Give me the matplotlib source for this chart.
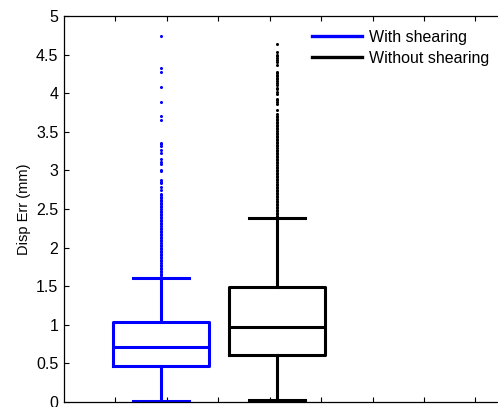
import matplotlib
matplotlib.use("Agg")
import matplotlib.pyplot as plt
from matplotlib.lines import Line2D

plt.rcParams['font.family'] = ['Liberation Sans', 'DejaVu Sans']

# ---- data ----
labels = ["With shearing", "Without shearing"]
colors = ["#0000ff", "#000000"]
medians = [0.71, 0.97]
q1s = [0.46, 0.61]
q3s = [1.03, 1.49]
whis_lo = [0.01, 0.02]
whis_hi = [1.60, 2.38]

fliers_with = [4.74, 4.32, 4.28, 4.08, 3.88, 3.71, 3.65, 3.36, 3.34, 3.32, 3.27,
               3.22, 3.15, 3.11, 3.08, 3.00, 2.99, 2.88, 2.85, 2.84, 2.78, 2.74,
               2.70, 2.68, 2.66, 2.64, 2.62, 2.60, 2.58, 2.56, 2.54, 2.52, 2.50,
               2.48, 2.46, 2.44, 2.42, 2.40, 2.38, 2.36, 2.34, 2.32, 2.30, 2.28,
               2.26, 2.24, 2.22, 2.20, 2.18, 2.16, 2.14, 2.12, 2.10, 2.08, 2.06,
               2.04, 2.02, 2.00, 1.98, 1.96, 1.94, 1.92, 1.90, 1.88, 1.86, 1.84,
               1.82, 1.80, 1.78, 1.76, 1.74, 1.72, 1.70, 1.68, 1.66, 1.64, 1.62]
fliers_without = [4.64, 4.54, 4.50, 4.48, 4.45, 4.43, 4.40, 4.37, 4.28, 4.26,
                  4.24, 4.22, 4.20, 4.18, 4.16, 4.13, 4.11, 4.07, 4.05, 4.02,
                  3.99, 3.93, 3.91, 3.89, 3.86, 3.78, 3.73, 3.71, 3.69, 3.67,
                  3.65, 3.63, 3.61, 3.59, 3.57, 3.55, 3.53, 3.51, 3.49, 3.47,
                  3.45, 3.43, 3.41, 3.39, 3.37, 3.35, 3.33, 3.31, 3.29, 3.27,
                  3.25, 3.23, 3.21, 3.19, 3.17, 3.15, 3.13, 3.11, 3.09, 3.07,
                  3.05, 3.03, 3.01, 2.99, 2.97, 2.95, 2.93, 2.91, 2.89, 2.87,
                  2.85, 2.83, 2.81, 2.79, 2.77, 2.75, 2.73, 2.71, 2.69, 2.67,
                  2.65, 2.63, 2.61, 2.59, 2.57, 2.55, 2.53, 2.51, 2.49, 2.47,
                  2.45, 2.43, 2.41, 2.39]
fliers = [fliers_with, fliers_without]

yticks = [0, 0.5, 1, 1.5, 2, 2.5, 3, 3.5, 4, 4.5, 5]
ytick_labels = ["0", "0.5", "1", "1.5", "2", "2.5", "3", "3.5", "4", "4.5", "5"]
ylabel = "Disp Err (mm)"

# ---- figure ----
W, H = 498, 407
fig = plt.figure(figsize=(W / 100, H / 100), dpi=100)
ax_left, ax_right, ax_top, ax_bot = 64, 527, 16, 402
ax = fig.add_axes([ax_left / W, (H - ax_bot) / H, (ax_right - ax_left) / W,
                   (ax_bot - ax_top) / H])

px_per_unit = 115.5
x0 = 1 - (161 - ax_left) / px_per_unit
x1 = x0 + (ax_right - ax_left) / px_per_unit
positions = [1, 2]

for i in range(2):
    st = dict(med=medians[i], q1=q1s[i], q3=q3s[i], whislo=whis_lo[i],
              whishi=whis_hi[i], fliers=fliers[i], label=labels[i])
    c = colors[i]
    ax.bxp([st], positions=[positions[i]], widths=96 / px_per_unit,
           capwidths=56 / px_per_unit, showfliers=True,
           boxprops=dict(color=c, linewidth=2.2),
           whiskerprops=dict(color=c, linewidth=2.2, linestyle='-'),
           capprops=dict(color=c, linewidth=2.2),
           medianprops=dict(color=c, linewidth=2.2),
           flierprops=dict(marker='o', markersize=2.2, markerfacecolor=c,
                           markeredgecolor=c, markeredgewidth=0, linestyle='none'),
           manage_ticks=False)

ax.set_xlim(x0, x1)
ax.set_ylim(0, 5)
step = 51.43 / px_per_unit
ax.set_xticks([x0 + k * step for k in range(1, 9)])
ax.set_xticklabels([])
ax.set_yticks(yticks)
ax.set_yticklabels(ytick_labels)
ax.tick_params(direction='in', length=3.5, width=0.8, top=True, right=False,
               labelsize=11.5, pad=4)
for s in ax.spines.values():
    s.set_linewidth(0.9)
ax.set_ylabel(ylabel, fontsize=10.5, labelpad=4)

handles = [Line2D([], [], color=colors[0], linewidth=2.4),
           Line2D([], [], color=colors[1], linewidth=2.4)]
fig.legend(handles, labels, loc='upper left',
           bbox_to_anchor=(312 / W, (H - 30) / H), frameon=False,
           fontsize=11.5, handlelength=3.1, handletextpad=0.45,
           labelspacing=0.38, borderpad=0, borderaxespad=0)

fig.savefig("out.png", dpi=100)
